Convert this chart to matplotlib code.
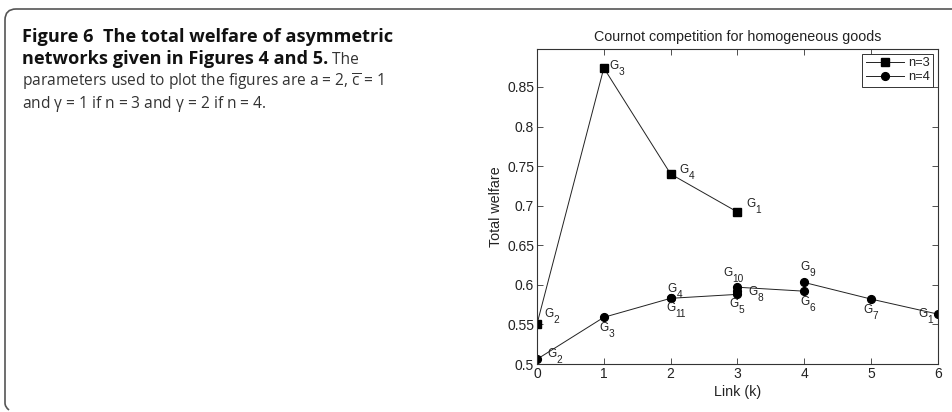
import matplotlib
matplotlib.use("Agg")
import matplotlib.pyplot as plt
from matplotlib.path import Path
from matplotlib.patches import PathPatch

plt.rcParams['mathtext.fontset'] = 'custom'
plt.rcParams['mathtext.rm'] = 'Open Sans'
plt.rcParams['mathtext.it'] = 'Open Sans:italic'
plt.rcParams['mathtext.default'] = 'regular'

# ---- data ----
k3 = [0, 1, 2, 3]
w3 = [0.5505, 0.874, 0.740, 0.692]
subs3 = ["2", "3", "4", "1"]

k4 = [0, 1, 2, 2, 3, 3, 3, 4, 4, 5, 6]
w4 = [0.506, 0.559, 0.583, 0.583, 0.588, 0.592, 0.597, 0.592, 0.603, 0.582, 0.563]
subs4 = ["2", "3", "11", "4", "5", "8", "10", "6", "9", "7", "1"]

# label offsets in image pixels (dx right, dy down) from each point
off3 = [(7, -10), (6, -2), (9, -4), (9, -8)]
off4 = [(10, -5), (-4, 11), (-4, 10), (-3, -9), (-8, 10), (11, 1), (-14, -14),
        (-4, 11), (-4, -15), (-8, 11), (-20, 0)]

xticks = [0, 1, 2, 3, 4, 5, 6]
yticks = [0.5, 0.55, 0.6, 0.65, 0.7, 0.75, 0.8, 0.85]
ytick_labels = ["0.5", "0.55", "0.6", "0.65", "0.7", "0.75", "0.8", "0.85"]

W, H = 953, 412
fig = plt.figure(figsize=(W / 100, H / 100), dpi=100)

# ---- caption panel border ----
r = 11
top, left, bot = 9, 5, 407
verts = [(W, H - top), (left + r, H - top), (left, H - top), (left, H - top - r),
         (left, H - bot + 4), (left, H - bot), (left + 4, H - bot - 3)]
codes = [Path.MOVETO, Path.LINETO, Path.CURVE3, Path.CURVE3, Path.LINETO, Path.CURVE3, Path.CURVE3]
verts = [(x / W, y / H) for x, y in verts]
fig.patches.append(PathPatch(Path(verts, codes), transform=fig.transFigure,
                             fill=False, edgecolor='#555555', lw=1.2))

# ---- caption text ----
cap_font = 'Open Sans'
fsb = 13.1
fsr = 11.2
txt_col = '#333333'
fig.text(22 / W, 1 - 42 / H, "Figure 6  The total welfare of asymmetric",
         fontsize=fsb, fontweight='bold', family=cap_font, va='baseline', color='#111111')
t2 = fig.text(22 / W, 1 - 64 / H, "networks given in Figures 4 and 5.",
              fontsize=fsb, fontweight='bold', family=cap_font, va='baseline', color='#111111')
fig.text(22 / W, 1 - 86 / H, r"parameters used to plot the figures are $a$ = 2, $\overline{c}$ = 1",
         fontsize=fsr, family=cap_font, va='baseline', color=txt_col)
fig.text(22 / W, 1 - 108 / H, r"and $\gamma$ = 1 if $n$ = 3 and $\gamma$ = 2 if $n$ = 4.",
         fontsize=fsr, family=cap_font, va='baseline', color=txt_col)
fig.canvas.draw()
bb = t2.get_window_extent()
fig.text(bb.x1 / W, 1 - 64 / H, " The", fontsize=fsr, family=cap_font, va='baseline',
         color=txt_col)

# ---- axes ----
ax_l, ax_r, ax_t, ax_b = 537, 938, 49, 364
ax = fig.add_axes([ax_l / W, 1 - ax_b / H, (ax_r - ax_l) / W, (ax_b - ax_t) / H])
fam = 'Liberation Sans'
col = '#222222'

ax.plot(k3, w3, color='#222222', lw=0.7, marker='s', markersize=5.3,
        markerfacecolor='black', markeredgecolor='black', label='n=3')
ax.plot(k4, w4, color='#222222', lw=0.7, marker='o', markersize=5.6,
        markerfacecolor='black', markeredgecolor='black', label='n=4')


def glabel(x, y, sub, off):
    g = ax.annotate("G", (x, y), xytext=(off[0], -off[1]), textcoords='offset pixels',
                    ha='left', va='center', family=fam, fontsize=8.5, color=col)
    ax.annotate(sub, xy=(1, 0), xycoords=g, xytext=(-0.2, 0), textcoords='offset points',
                ha='left', va='center', family=fam, fontsize=7.3, color=col)


for x, y, s, o in zip(k3, w3, subs3, off3):
    glabel(x, y, s, o)
for x, y, s, o in zip(k4, w4, subs4, off4):
    glabel(x, y, s, o)

ax.set_xlim(0, 6)
ax.set_ylim(0.5, 0.898)
ax.set_xticks(xticks)
ax.set_yticks(yticks)
ax.set_xticklabels([str(v) for v in xticks], family=fam, fontsize=10, color=col)
ax.set_yticklabels(ytick_labels, family=fam, fontsize=10, color=col)
ax.tick_params(direction='in', top=True, right=True, length=4, width=0.6, pad=2,
               colors='#333333', labelcolor=col)
for s in ax.spines.values():
    s.set_linewidth(0.8)
    s.set_color('#333333')
ax.set_xlabel("Link (k)", family=fam, fontsize=10.3, color=col, labelpad=3)
ax.set_ylabel("Total welfare", family=fam, fontsize=10.3, color=col, labelpad=3)
ax.set_title("Cournot competition for homogeneous goods", family=fam,
             fontsize=10.3, color=col, pad=6)

leg = ax.legend(loc='upper right', prop={'family': fam, 'size': 9.3},
                fancybox=False, framealpha=1, edgecolor='#333333', handlelength=3.0,
                borderaxespad=0.35, markerscale=1.0, labelspacing=0.15, handletextpad=0.25,
                borderpad=0.3)
leg.get_frame().set_linewidth(0.7)
for t in leg.get_texts():
    t.set_color(col)

fig.savefig("out.png", dpi=100)
